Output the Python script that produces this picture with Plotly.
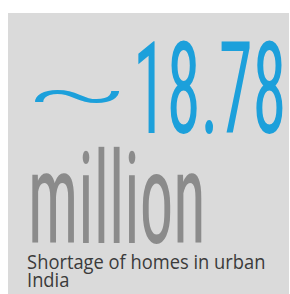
import json
import plotly.graph_objects as go

# ---- content ----
prefix_symbol = "~"
headline_value = "18.78"
headline_unit = "million"
caption_lines = ["Shortage of homes in urban", "India"]

W, H = 290, 294
BOX_BG = "#dadada"
BLUE = "#1ca0db"
UNIT_GREY = "#8b8b8b"
CAPTION = "#3b3b3b"

def px(x):
    return x / W

def py(y):
    return 1 - y / H

fig = go.Figure()

# grey card
fig.add_shape(type="rect", xref="paper", yref="paper",
              x0=px(8), x1=px(289), y0=py(294), y1=py(13),
              fillcolor=BOX_BG, line=dict(width=0), layer="below")

# annotations (index order matters for horizontal condensing below)
fig.add_annotation(text=prefix_symbol, x=px(22), y=py(46), xanchor="left", yanchor="top",
                   font=dict(family="Roboto", size=75, color=BLUE, weight=300))
fig.add_annotation(text=headline_value, x=px(131), y=py(12), xanchor="left", yanchor="top",
                   font=dict(family="Roboto Condensed", size=128, color=BLUE, weight=400))
fig.add_annotation(text=headline_unit, x=px(26), y=py(122), xanchor="left", yanchor="top",
                   font=dict(family="Roboto Condensed", size=128, color=UNIT_GREY, weight=400))
for i, line in enumerate(caption_lines):
    fig.add_annotation(text=line, x=px(25), y=py(246 + 18 * i), xanchor="left", yanchor="top",
                       font=dict(family="Open Sans", size=19.5, color=CAPTION))

fig.update_annotations(showarrow=False, xref="paper", yref="paper")

fig.update_layout(width=W, height=H, margin=dict(l=0, r=0, t=0, b=0),
                  paper_bgcolor="white", plot_bgcolor="white",
                  xaxis=dict(visible=False), yaxis=dict(visible=False),
                  showlegend=False)

# horizontal condensing per annotation index (the reference uses a very condensed face)
x_scales = {0: 2.07, 1: 0.535, 2: 0.522, 3: 0.94, 4: 0.94}

post = """
document.body.style.margin = '0';
document.body.style.overflow = 'hidden';
var gd = document.getElementById('{plot_id}');
var sx = %s;
function condense(){
  gd.querySelectorAll('g.annotation').forEach(function(g){
    var i = g.getAttribute('data-index');
    if (sx[i] !== undefined && sx[i] !== 1) {
      var t = g.querySelector('text.annotation-text');
      if (!t) return;
      t.style.transformBox = 'fill-box';
      t.style.transformOrigin = '0 50%%';
      t.style.transform = 'scaleX(' + sx[i] + ')';
    }
  });
}
condense();
gd.on('plotly_afterplot', condense);
""" % json.dumps({str(k): v for k, v in x_scales.items()})

fig.write_html("out.html", post_script=post, config={"displayModeBar": False})
